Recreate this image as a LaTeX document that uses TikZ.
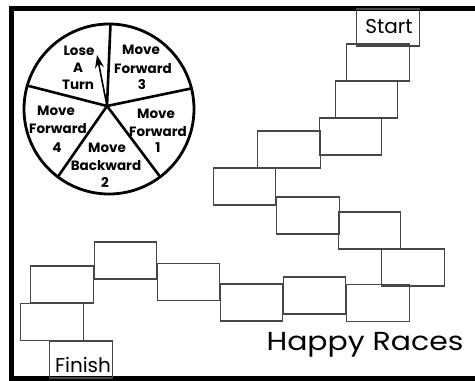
\documentclass[tikz,border=0pt]{standalone}
\usepackage{fontspec}
\setmainfont{Poppins}
\usetikzlibrary{arrows.meta}
\begin{document}
\begin{tikzpicture}[x=1pt,y=-1pt,
  sq/.style={draw=black!72, line width=1.2pt, minimum width=62.5pt, minimum height=37pt, inner sep=0pt},
  pl/.style={font=\bfseries\fontsize{13.5}{16}\selectfont, inner sep=0pt, anchor=base},
  frame/.style={line width=5pt, line join=miter},
  spoke/.style={line width=2.6pt, line cap=round}]
\useasboundingbox (0,0) rectangle (475,381);
\clip (0,0) rectangle (475,381);
\fill[white] (0,0) rectangle (475,381);
% frame
\draw[frame] (490,8.5) -- (11,8.5) -- (11,378) -- (490,378);
% spinner
\coordinate (c) at (109,109);
\coordinate (hub) at (107,106);
\draw[line width=2.8pt] (c) circle[radius=85pt];
\draw[spoke] (hub) -- (110.5,24);
\draw[spoke] (hub) -- (191.5,88.4);
\draw[spoke] (hub) -- (160.2,176.9);
\draw[spoke] (hub) -- (57.8,176.9);
\draw[spoke] (hub) -- (27.3,85.6);
\coordinate (tip) at (97,55);
\draw[line width=1.6pt, -{Stealth[length=13pt,width=9pt]}] (hub) -- (tip);
% labels
\node[pl] (l1) at (79,55) {Lose};
\node[pl] (l2) at (78,72) {A};
\node[pl] (l3) at (78,89) {Turn};
\node[pl] (f31) at (141,54) {Move};
\node[pl] (f32) at (143,73) {Forward};
\node[pl] (f33) at (142,89) {3};
\node[pl] (f11) at (156,118) {Move};
\node[pl] (f12) at (158,136) {Forward};
\node[pl] (f13) at (158,152) {1};
\node[pl] (f41) at (56,115) {Move};
\node[pl] (f42) at (58,133) {Forward};
\node[pl] (f43) at (57,152) {4};
\node[pl] (b21) at (107,152) {Move};
\node[pl] (b22) at (106,170) {Backward};
\node[pl] (b23) at (105,187) {2};
% track
\node[sq] (b1) at (388,27.5) {};
\node[font=\fontsize{20}{24}\selectfont, inner sep=0pt, anchor=base] (st) at (389,33) {Start};
\node[sq] (b2) at (378,62.5) {};
\node[sq] (b3) at (366.5,99.5) {};
\node[sq] (b4) at (350.5,136.5) {};
\node[sq] (b5) at (289,149.5) {};
\node[sq] (b6) at (244.5,186.5) {};
\node[sq] (b7) at (308,215.5) {};
\node[sq] (b8) at (369.5,230.5) {};
\node[sq] (b9) at (413,267.5) {};
\node[sq] (b10) at (378,303) {};
\node[sq] (b11) at (314.5,295.5) {};
\node[sq] (b12) at (251.5,302.5) {};
\node[sq] (b13) at (188.5,282) {};
\node[sq] (b14) at (125.5,260.5) {};
\node[sq] (b15) at (62,284.5) {};
\node[sq] (b16) at (52,322) {};
\node[sq] (b17) at (81,359.5) {};
\node[font=\fontsize{20}{24}\selectfont, inner sep=0pt, anchor=base] (fin) at (83,372) {Finish};
% title
\node[font=\fontsize{26}{30}\selectfont, inner sep=0pt, anchor=base] (title) at (365,350) {\scalebox{1.15}[1]{Happy Races}};
\end{tikzpicture}
\end{document}
